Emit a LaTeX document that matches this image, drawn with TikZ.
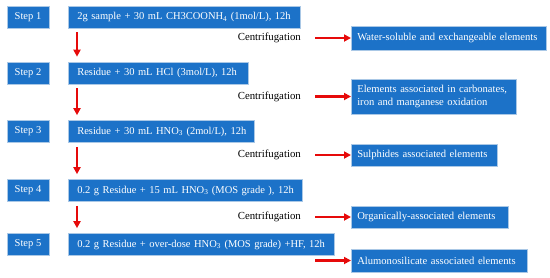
\documentclass[tikz,border=0pt]{standalone}
\usepackage{fontspec}
\setmainfont{Liberation Serif}
\usepackage{tikz}
\usetikzlibrary{arrows.meta,positioning}
\definecolor{stepblue}{RGB}{28,114,200}
\definecolor{edgeblue}{RGB}{170,200,230}
\definecolor{arrowred}{RGB}{230,10,10}
\tikzset{
  stepbox/.style = {draw=edgeblue, line width=0.6pt, fill=stepblue, text=white,
                    font=\fontsize{10.5}{12.5}\selectfont, minimum width=42pt,
                    minimum height=22pt, inner sep=0pt},
  procbox/.style = {stepbox, anchor=west, inner xsep=9pt, align=left},
  resbox/.style  = {stepbox, anchor=west, inner xsep=6pt, align=left,
                    font=\fontsize{10.6}{13}\selectfont},
  label/.style   = {font=\fontsize{10.8}{13}\selectfont, inner sep=0pt},
  redarrow/.style = {-{Triangle[length=7pt,width=7pt]}, line width=2.2pt, arrowred},
}

\begin{document}
\begin{tikzpicture}[x=1pt,y=-1pt]
  \useasboundingbox (0,0) rectangle (550,277);
  % step labels
  \foreach \i/\y in {1/17,2/73,3/131.5,4/190.5,5/244.5}{
    \node[stepbox] (s\i) at (28,\y) {Step \i};}
  % procedures
  \node[procbox,text width=214pt] (p1) at (68,17)
    {\mbox{2g sample + 30 mL CH3COONH\textsubscript{4} (1mol/L), 12h}};
  \node[procbox,text width=162pt] (p2) at (68,73)
    {\mbox{Residue + 30 mL HCl (3mol/L), 12h}};
  \node[procbox,text width=168pt] (p3) at (68,131.5)
    {\mbox{Residue + 30 mL HNO\textsubscript{3} (2mol/L), 12h}};
  \node[procbox,text width=216pt] (p4) at (68,190.5)
    {\mbox{0.2 g Residue + 15 mL HNO\textsubscript{3} (MOS grade ), 12h}};
  \node[procbox,text width=248pt] (p5) at (68,244.5)
    {\mbox{0.2 g Residue + over-dose HNO\textsubscript{3} (MOS grade) +HF, 12h}};
  % fractions
  \node[resbox,text width=183pt,minimum height=24pt] (r1) at (351,38)
    {\mbox{Water-soluble and exchangeable elements}};
  \node[resbox,text width=153pt,minimum height=35pt] (r2) at (351,96.5)
    {\mbox{Elements associated in carbonates,}\\\mbox{iron and manganese oxidation}};
  \node[resbox,text width=134pt] (r3) at (351,155)
    {\mbox{Sulphides associated elements}};
  \node[resbox,text width=145pt] (r4) at (351,217)
    {\mbox{Organically-associated elements}};
  \node[resbox,text width=164pt,minimum height=23pt] (r5) at (351,260.5)
    {\mbox{Alumonosilicate associated elements}};
  % centrifugation
  \foreach \i in {1,2,3,4}{
    \node[label,anchor=east] (c\i) at (301,0 |- r\i.west) {Centrifugation};
    \draw[redarrow] ([xshift=14pt]c\i.east) -- (r\i.west);
    \draw[redarrow] ([xshift=9pt,yshift=-4pt]p\i.south west)
      -- ([xshift=9pt,yshift=5pt]p\the\numexpr\i+1\relax.north west);}
  \coordinate (c5) at (315,0 |- r5.west);
  \draw[redarrow] (c5) -- (r5.west);
\end{tikzpicture}
\end{document}
